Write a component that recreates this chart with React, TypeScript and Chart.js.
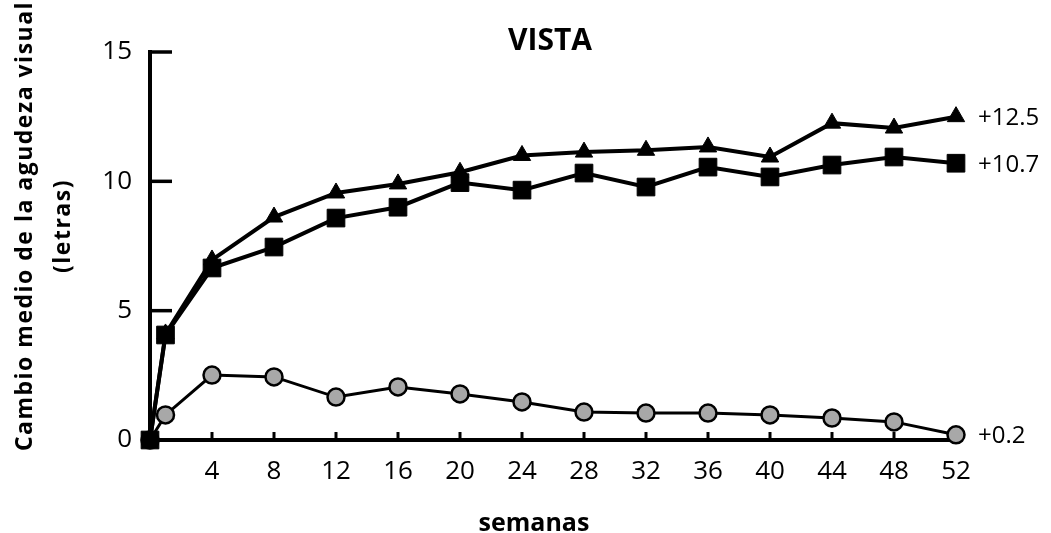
import React, { useEffect, useRef } from 'react';
import { Chart, registerables } from 'chart.js';

Chart.register(...registerables);

const chartTitle = 'VISTA';
const yTitleLines = ['Cambio medio de la agudeza visual', '(letras)'];
const xTitle = 'semanas';

const weeks = [0, 1, 4, 8, 12, 16, 20, 24, 28, 32, 36, 40, 44, 48, 52];
const triangleValues = [0, 4.1, 6.96, 8.62, 9.55, 9.9, 10.35, 11.0, 11.13, 11.2, 11.33, 10.94, 12.25, 12.06, 12.5];
const squareValues = [0, 4.06, 6.65, 7.46, 8.58, 9.0, 9.95, 9.66, 10.32, 9.78, 10.55, 10.17, 10.63, 10.94, 10.7];
const circleValues = [0, 0.97, 2.51, 2.44, 1.66, 2.05, 1.78, 1.47, 1.08, 1.04, 1.04, 0.97, 0.85, 0.7, 0.2];
const endLabels = ['+12.5', '+10.7', '+0.2'];
const xTickValues = [4, 8, 12, 16, 20, 24, 28, 32, 36, 40, 44, 48, 52];
const yTickValues = [0, 5, 10, 15];

const FONT = '"Open Sans", "Noto Sans", sans-serif';

const toPoints = (vals: number[]) => weeks.map((w, i) => ({ x: w, y: vals[i] }));

const decorPlugin = {
  id: 'decor',
  beforeDatasetsDraw(chart: any) {
    const { ctx, chartArea, scales } = chart;
    const xs = scales.x;
    const ys = scales.y;
    ctx.save();
    ctx.strokeStyle = '#000';
    ctx.lineCap = 'butt';
    ctx.lineWidth = 3.5;
    yTickValues.forEach((v) => {
      if (v === 0) return;
      const py = ys.getPixelForValue(v);
      ctx.beginPath();
      ctx.moveTo(chartArea.left, py);
      ctx.lineTo(chartArea.left + 22, py);
      ctx.stroke();
    });
    ctx.lineWidth = 3;
    xTickValues.forEach((v) => {
      const px = xs.getPixelForValue(v);
      ctx.beginPath();
      ctx.moveTo(px, chartArea.bottom);
      ctx.lineTo(px, chartArea.bottom - 8);
      ctx.stroke();
    });
    ctx.restore();
  },
  afterDraw(chart: any) {
    const { ctx } = chart;
    ctx.save();
    ctx.fillStyle = '#000';
    // title
    ctx.font = `bold 30px ${FONT}`;
    ctx.textAlign = 'center';
    ctx.textBaseline = 'alphabetic';
    ctx.fillText(chartTitle, 550, 50);
    // x title
    ctx.font = `bold 25px ${FONT}`;
    ctx.fillText(xTitle, 534, 531);
    // y title
    ctx.font = `bold 23px ${FONT}`;
    (ctx as any).letterSpacing = '1.5px';
    ctx.textBaseline = 'middle';
    const yCenters = [25, 63];
    yTitleLines.forEach((line, i) => {
      ctx.save();
      ctx.translate(yCenters[i], 226);
      ctx.rotate(-Math.PI / 2);
      ctx.fillText(line, 0, 0);
      ctx.restore();
    });
    (ctx as any).letterSpacing = '0px';
    // end labels
    ctx.font = `24px ${FONT}`;
    ctx.textAlign = 'left';
    ctx.textBaseline = 'alphabetic';
    endLabels.forEach((lbl, i) => {
      const meta = chart.getDatasetMeta(i);
      const el = meta.data[meta.data.length - 1];
      if (!el) return;
      ctx.fillText(lbl, el.x + 22, el.y + 8.5);
    });
    ctx.restore();
  },
};

export default function App() {
  const canvasRef = useRef<HTMLCanvasElement | null>(null);

  useEffect(() => {
    const canvas = canvasRef.current;
    if (!canvas) return;
    const chart = new Chart(canvas, {
      type: 'line',
      data: {
        datasets: [
          {
            label: 'triangle',
            data: toPoints(triangleValues),
            borderColor: '#000',
            borderWidth: 4,
            pointStyle: 'triangle',
            pointRadius: 10,
            pointBackgroundColor: '#000',
            pointBorderColor: '#000',
            pointBorderWidth: 1,
            tension: 0,
            clip: false as any,
            order: 1,
          },
          {
            label: 'square',
            data: toPoints(squareValues),
            borderColor: '#000',
            borderWidth: 4,
            pointStyle: 'rect',
            pointRadius: 12.5,
            pointBackgroundColor: '#000',
            pointBorderColor: '#000',
            pointBorderWidth: 1,
            tension: 0,
            clip: false as any,
            order: 0,
          },
          {
            label: 'circle',
            data: toPoints(circleValues),
            borderColor: '#000',
            borderWidth: 3,
            pointStyle: 'circle',
            pointRadius: 8.5,
            pointBackgroundColor: '#a8a8a8',
            pointBorderColor: '#000',
            pointBorderWidth: 2.5,
            tension: 0,
            clip: false as any,
            order: 2,
          },
        ],
      },
      options: {
        responsive: false,
        animation: false,
        devicePixelRatio: 1,
        layout: { padding: { top: 52, right: 95, left: 0, bottom: 0 } },
        plugins: {
          legend: { display: false },
          tooltip: { enabled: false },
          title: { display: false },
        },
        scales: {
          x: {
            type: 'linear',
            min: 0,
            max: 52,
            afterFit: (s: any) => {
              s.height = 93;
            },
            afterBuildTicks: (s: any) => {
              s.ticks = xTickValues.map((v) => ({ value: v }));
            },
            grid: { display: false, drawTicks: false },
            border: { display: true, color: '#000', width: 4 },
            ticks: {
              color: '#000',
              padding: 16,
              maxRotation: 0,
              autoSkip: false,
              font: { family: FONT, size: 26 },
            },
          },
          y: {
            type: 'linear',
            min: 0,
            max: 15,
            afterFit: (s: any) => {
              s.width = 150;
            },
            afterBuildTicks: (s: any) => {
              s.ticks = yTickValues.map((v) => ({ value: v }));
            },
            grid: { display: false, drawTicks: false },
            border: { display: true, color: '#000', width: 4 },
            ticks: {
              color: '#000',
              padding: 18,
              font: { family: FONT, size: 26 },
            },
          },
        },
      },
      plugins: [decorPlugin],
    });
    return () => chart.destroy();
  }, []);

  return (
    <div style={{ position: 'absolute', left: 0, top: 0, width: 1051, height: 533, background: '#fff' }}>
      <canvas ref={canvasRef} width={1051} height={533} style={{ width: 1051, height: 533, display: 'block' }} />
    </div>
  );
}
